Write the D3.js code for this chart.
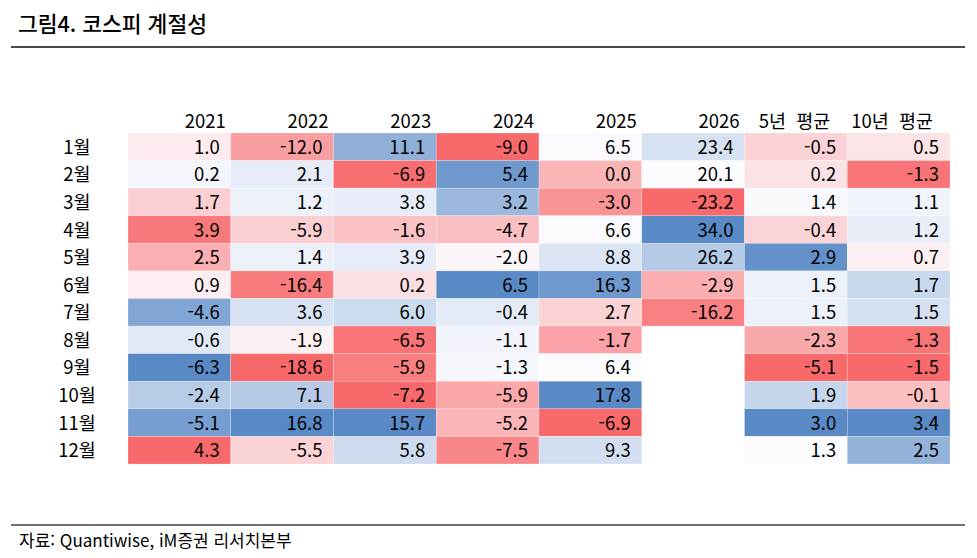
<!doctype html>
<html lang="ko">
<head>
    <meta charset="UTF-8">
    <title>코스피 계절성</title>
    <script src="https://d3js.org/d3.v7.min.js"></script>
    <style>
        body { margin: 0; background: #fff; }
        text { font-family: "Noto Sans CJK KR", "Noto Sans", sans-serif; fill: #000; }
    </style>
</head>
<body>
<div id="chart-area"></div>

<script>
const columns = ['2021', '2022', '2023', '2024', '2025', '2026', '5년 평균', '10년 평균'];
const months = ['1월', '2월', '3월', '4월', '5월', '6월', '7월', '8월', '9월', '10월', '11월', '12월'];

const v2021 = [1.0, 0.2, 1.7, 3.9, 2.5, 0.9, -4.6, -0.6, -6.3, -2.4, -5.1, 4.3];
const v2022 = [-12.0, 2.1, 1.2, -5.9, 1.4, -16.4, 3.6, -1.9, -18.6, 7.1, 16.8, -5.5];
const v2023 = [11.1, -6.9, 3.8, -1.6, 3.9, 0.2, 6.0, -6.5, -5.9, -7.2, 15.7, 5.8];
const v2024 = [-9.0, 5.4, 3.2, -4.7, -2.0, 6.5, -0.4, -1.1, -1.3, -5.9, -5.2, -7.5];
const v2025 = [6.5, 0.0, -3.0, 6.6, 8.8, 16.3, 2.7, -1.7, 6.4, 17.8, -6.9, 9.3];
const v2026 = [23.4, 20.1, -23.2, 34.0, 26.2, -2.9, -16.2, null, null, null, null, null];
const avg5 = [-0.5, 0.2, 1.4, -0.4, 2.9, 1.5, 1.5, -2.3, -5.1, 1.9, 3.0, 1.3];
const avg10 = [0.5, -1.3, 1.1, 1.2, 0.7, 1.7, 1.5, -1.3, -1.5, -0.1, 3.4, 2.5];

const series = [v2021, v2022, v2023, v2024, v2025, v2026, avg5, avg10];
// 2021 column in the source uses the opposite colour direction
const reversed = ['2021'];

const W = 977, H = 558;
const red = '#F8696B', white = '#FCFCFF', blue = '#5A8AC6';

const svg = d3.select('#chart-area')
    .append('svg')
    .attr('width', W)
    .attr('height', H);

// title + rules
svg.append('text')
    .attr('x', 18).attr('y', 32)
    .style('font-size', '21.5px')
    .style('font-weight', 500)
    .text('그림4. 코스피 계절성');

svg.append('line')
    .attr('x1', 11).attr('x2', 965)
    .attr('y1', 47).attr('y2', 47)
    .attr('stroke', '#111').attr('stroke-width', 1.5);

svg.append('line')
    .attr('x1', 11).attr('x2', 965)
    .attr('y1', 525).attr('y2', 525)
    .attr('stroke', '#444').attr('stroke-width', 1.5);

svg.append('text')
    .attr('x', 19).attr('y', 547)
    .style('font-size', '17px')
    .text('자료: Quantiwise, iM증권 리서치본부');

const x = d3.scaleBand()
    .domain(columns)
    .range([128, 950]);

const y = d3.scaleBand()
    .domain(months)
    .range([133, 464]);

// one colour scale per column: min / median / max
const colorScales = series.map((vals, i) => {
    const v = vals.filter(d => d !== null);
    const range = reversed.includes(columns[i]) ? [blue, white, red] : [red, white, blue];
    return d3.scaleLinear()
        .domain([d3.min(v), d3.median(v), d3.max(v)])
        .range(range)
        .interpolate(d3.interpolateRgb);
});

const cells = [];
series.forEach((vals, ci) => {
    vals.forEach((v, mi) => {
        if (v !== null) cells.push({ col: columns[ci], ci: ci, month: months[mi], value: v });
    });
});

const g = svg.append('g');

g.selectAll('rect')
    .data(cells)
    .enter()
    .append('rect')
    .attr('x', d => x(d.col))
    .attr('y', d => y(d.month))
    .attr('width', x.bandwidth())
    .attr('height', y.bandwidth())
    .attr('fill', d => colorScales[d.ci](d.value))
    .attr('stroke', 'rgba(255,255,255,0.35)')
    .attr('stroke-width', 0.6);

g.selectAll('text.val')
    .data(cells)
    .enter()
    .append('text')
    .attr('class', 'val')
    .attr('x', d => x(d.col) + x.bandwidth() - 11)
    .attr('y', d => y(d.month) + y.bandwidth() / 2 + 7)
    .attr('text-anchor', 'end')
    .style('font-size', '18.5px')
    .text(d => d.value.toFixed(1));

// column headers
svg.selectAll('text.head')
    .data(columns)
    .enter()
    .append('text')
    .attr('class', 'head')
    .attr('x', d => x(d) + x.bandwidth() - (/^\d+$/.test(d) ? 5 : 17))
    .attr('y', 128)
    .attr('text-anchor', 'end')
    .style('font-size', '18.5px')
    .style('word-spacing', '5px')
    .text(d => d);

// row labels
svg.selectAll('text.row')
    .data(months)
    .enter()
    .append('text')
    .attr('class', 'row')
    .attr('x', 77)
    .attr('y', d => y(d) + y.bandwidth() / 2 + 7)
    .attr('text-anchor', 'middle')
    .style('font-size', '18.5px')
    .text(d => d);
</script>

</body>
</html>
